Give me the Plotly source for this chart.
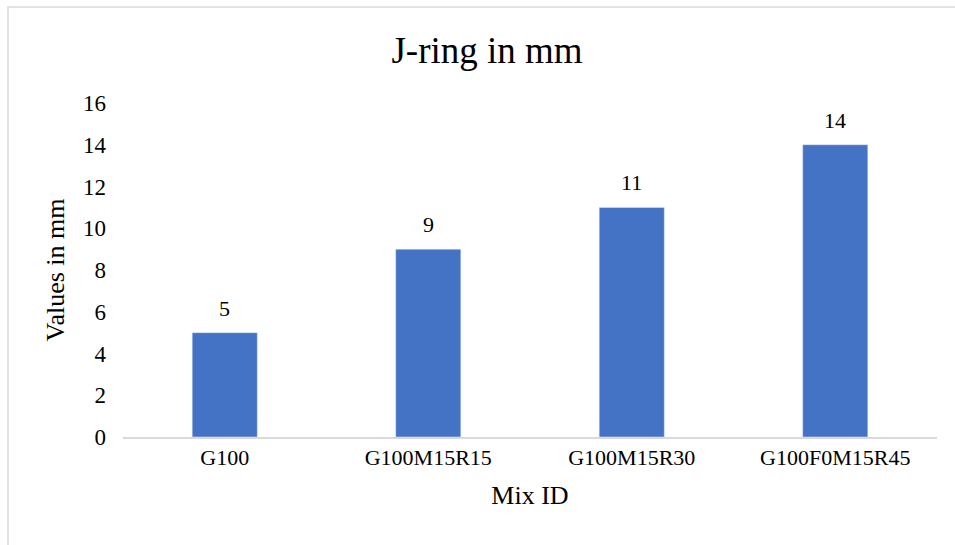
import plotly.graph_objects as go

categories = ["G100", "G100M15R15", "G100M15R30", "G100F0M15R45"]
values = [5, 9, 11, 14]

W, H = 955, 545
L, R, T, B = 123, 18, 103, 108
pw, ph = W - L - R, H - T - B

def px(x):
    return (x - L) / pw

def py(y):
    return (H - B - y) / ph

font = "Liberation Serif, Times New Roman, serif"

fig = go.Figure(go.Bar(x=categories, y=values, marker_color="#4472c4"))

annotations = [
    dict(x=c, y=v, xref="x", yref="y", text=str(v), showarrow=False,
         yanchor="bottom", yshift=10, font=dict(size=22, family=font, color="#000000"))
    for c, v in zip(categories, values)
]

fig.update_layout(
    width=W, height=H,
    margin=dict(l=L, r=R, t=T, b=B),
    paper_bgcolor="white", plot_bgcolor="white",
    font=dict(family=font, color="#000000", size=22),
    bargap=0.68,
    showlegend=False,
    title=dict(text="J-ring in mm", x=487 / W, xanchor="center", y=1 - 50 / H, yanchor="middle",
               font=dict(size=37, family=font, color="#000000")),
    xaxis=dict(showline=True, linecolor="#d9d9d9", linewidth=2, ticks="",
               tickfont=dict(size=22), title=dict(text="Mix ID", font=dict(size=26), standoff=16)),
    yaxis=dict(range=[0, 16], dtick=2, showgrid=False, zeroline=False, showline=False,
               tickfont=dict(size=23), ticklabelstandoff=16,
               title=dict(text="Values in mm", font=dict(size=26), standoff=10)),
    annotations=annotations,
    shapes=[dict(type="rect", xref="paper", yref="paper",
                 x0=px(8), x1=px(962), y0=py(552), y1=py(7),
                 line=dict(color="#d9d9d9", width=1.5))],
)

fig.write_html("out.html")
